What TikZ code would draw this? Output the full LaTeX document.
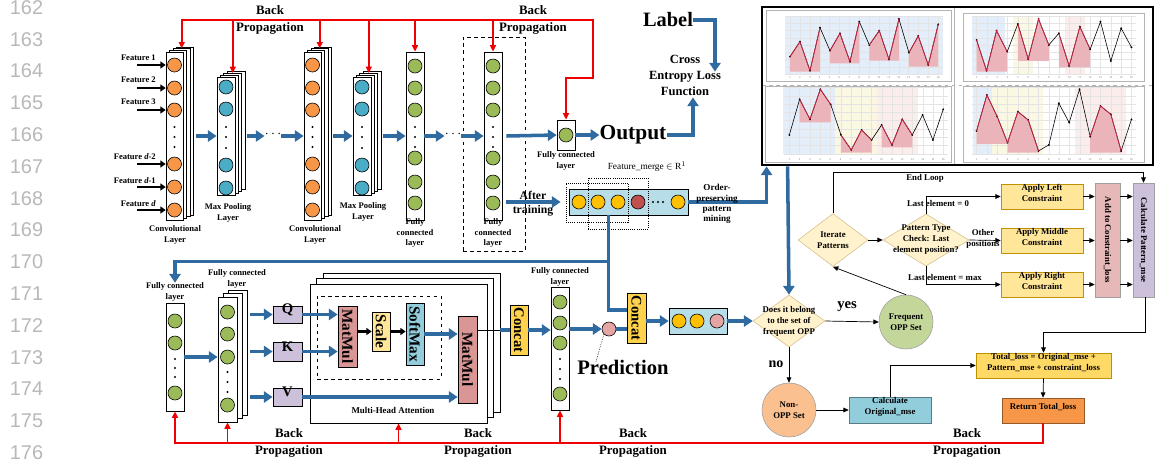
\documentclass[tikz,border=0pt]{standalone}
\usepackage{fontspec}
\setmainfont{Liberation Serif}
\setsansfont{Liberation Sans}
\usetikzlibrary{arrows.meta,positioning,fit,calc,shapes.geometric}
\definecolor{FlowBlue}{HTML}{2F6AA0}
\definecolor{BackRed}{HTML}{F00000}
\definecolor{NumGrey}{HTML}{B8B8B8}
\definecolor{ConvOrange}{HTML}{F79646}
\definecolor{PoolTeal}{HTML}{4BACC6}
\definecolor{DenseGreen}{HTML}{9BBB59}
\definecolor{MergeBlue}{HTML}{B7DEE8}
\definecolor{MergeGold}{HTML}{FFC000}
\definecolor{MergeRed}{HTML}{C0504D}
\definecolor{PredPink}{HTML}{E6A5A5}
\definecolor{QkvLilac}{HTML}{CCC0DA}
\definecolor{MulRose}{HTML}{D99694}
\definecolor{ScaleYellow}{HTML}{FFE699}
\definecolor{SoftBlue}{HTML}{93CDDD}
\definecolor{ConcatGold}{HTML}{FFD24D}
\definecolor{DiaCream}{HTML}{FFF2CC}
\definecolor{DiaEdge}{HTML}{D6C08A}
\definecolor{OppGreen}{HTML}{C4D79B}
\definecolor{NonOppPeach}{HTML}{FAC090}
\definecolor{SetEdge}{HTML}{A0A0A0}
\definecolor{ApplyYellow}{HTML}{FFE699}
\definecolor{ApplyEdge}{HTML}{BF9000}
\definecolor{AddPink}{HTML}{E6B9B8}
\definecolor{PatLilac}{HTML}{CCC0DA}
\definecolor{TotalGold}{HTML}{FFD966}
\definecolor{ReturnOrange}{HTML}{F79646}
\definecolor{CalcBlue}{HTML}{92CDDC}
\definecolor{PanelGrey}{HTML}{B4B4B4}
\definecolor{GridGrey}{HTML}{E4E4E4}
\definecolor{TickGrey}{HTML}{707070}
\definecolor{ChartRed}{HTML}{D62246}
\definecolor{ShadeRed}{HTML}{EBB3BA}
\definecolor{BandBlue}{HTML}{E4EEFB}
\definecolor{BandYellow}{HTML}{FAF8E2}
\definecolor{BandPink}{HTML}{FCEDED}

\begin{document}
\begin{tikzpicture}[x=0.03cm,y=-0.03cm,font=\bfseries]
    \tikzset{
      lab/.style={font=\fontsize{7.3}{8.8}\selectfont\bfseries,align=center,inner sep=0},
      bptext/.style={font=\fontsize{11}{14}\selectfont\bfseries,align=center,inner sep=0},
      lyr/.style={draw,fill=white,line width=0.6pt,inner sep=0},
      unit/.style={circle,draw,line width=0.5pt,inner sep=0,minimum size=0.42cm},
      flow/.style={draw=FlowBlue,line width=3pt,-{Triangle[length=7.5pt,width=9.5pt]}},
      flowline/.style={draw=FlowBlue,line width=3pt},
      back/.style={draw=BackRed,line width=1.5pt,-{Triangle[length=5.5pt,width=5pt]}},
      link/.style={draw,line width=0.6pt,-{Triangle[length=4.5pt,width=4pt]}},
      blackarrow/.style={draw,line width=2pt,-{Triangle[length=4.5pt,width=6pt]}},
      box/.style={draw,line width=0.5pt,inner sep=0,align=center,font=\fontsize{7.5}{9.4}\selectfont\bfseries},
      rot/.style={rotate=-90,inner sep=0,font=\fontsize{13}{14}\selectfont\bfseries},
      rotsmall/.style={rotate=-90,inner sep=0,font=\fontsize{7.5}{9}\selectfont\bfseries},
      dec/.style={diamond,draw=DiaEdge,fill=DiaCream,line width=0.5pt,inner sep=0},
      dectext/.style={align=center,inner sep=0,font=\fontsize{7.5}{9.4}\selectfont\bfseries},
      setnode/.style={circle,draw=SetEdge,line width=0.5pt,inner sep=0,minimum size=1.62cm,align=center,font=\fontsize{7.5}{9.4}\selectfont\bfseries},
      tick/.style={inner sep=0,font=\fontsize{2.5}{3}\selectfont\mdseries,text=TickGrey}
    }
    \useasboundingbox (0,0) rectangle (1155,465);

    % line numbers of the page
    \foreach \n [count=\k from 0] in {162,...,176}
      \node[font=\fontsize{17}{18}\selectfont\sffamily\mdseries,text=NumGrey,inner sep=0] (ln\n) at (26.5,7.5+31.8*\k) {\n};

    % ---------- CNN branch ----------
    \foreach \t/\y [count=\k] in {Feature 1/58,Feature 2/80,Feature 3/102,Feature \textit{d}-2/157,Feature \textit{d}-1/181,Feature \textit{d}/204}
      \node[lab,anchor=east] (feat\k) at (156,\y) {\t};
    \foreach \n/\x in {conv1/166,conv2/304}{
      \foreach \i in {3,2,1}
        \node[lyr,fit={(\x+3.6*\i,52-1.6*\i)(\x+17+3.6*\i,220-1.6*\i)}] (\n-b\i) {};
      \node[lyr,fit={(\x,52)(\x+17,220)}] (\n) {};
      \foreach \y [count=\k] in {65,88,110,164,187,210}
        \node[unit,fill=ConvOrange] (\n-u\k) at (\x+8.5,\y) {};
      \foreach \y in {127,137,147} \fill (\x+8.5,\y) circle (0.9pt);
    }
    \foreach \n/\x in {pool1/217,pool2/353}{
      \foreach \i in {3,2,1}
        \node[lyr,fit={(\x+3.4*\i,77-1.8*\i)(\x+18+3.4*\i,195-1.8*\i)}] (\n-b\i) {};
      \node[lyr,fit={(\x,77)(\x+18,195)}] (\n) {};
      \foreach \y [count=\k] in {87,109,165,188}
        \node[unit,fill=PoolTeal] (\n-u\k) at (\x+9,\y) {};
      \foreach \y in {127,137,148} \fill (\x+9,\y) circle (0.9pt);
    }
    \foreach \n/\x in {fc1/406,fc2/484}{
      \node[lyr,fit={(\x,52)(\x+18,220)}] (\n) {};
      \foreach \y [count=\k] in {66,88,110,158,182,203}
        \node[unit,fill=DenseGreen] (\n-u\k) at (\x+9,\y) {};
      \foreach \y in {127,137,147} \fill (\x+9,\y) circle (0.9pt);
    }
    \node[draw,dashed,line width=0.6pt,inner sep=0,fit={(463,37)(525,251)}] (fc2frame) {};
    \node[lab] (conv1l) at (175,235) {Convolutional\\Layer};
    \node[lab] (pool1l) at (228,213) {Max Pooling\\Layer};
    \node[lab] (conv2l) at (315,235) {Convolutional\\Layer};
    \node[lab] (pool2l) at (363,212) {Max Pooling\\Layer};
    \node[lab] (fc1l) at (415,233) {Fully\\connected\\layer};
    \node[lab] (fc2l) at (493,233) {Fully\\connected\\layer};
    \foreach \k/\y in {1/65,2/88,3/110,4/164,5/187,6/210}{
      \coordinate (fin\k) at (137,\y);
      \draw[blackarrow] (fin\k) -- (fin\k -| conv1.west);
    }
    \node[font=\fontsize{13}{14}\selectfont\bfseries,inner sep=0] (dotA) at (273,134) {$\cdots$};
    \node[font=\fontsize{13}{14}\selectfont\bfseries,inner sep=0] (dotB) at (453,134) {$\cdots$};
    \draw[flow] ($(conv1.east)+(13,0)$) -- (pool1.west);
    \draw[flow] ($(pool1.east)+(12,0)$) -- (dotA.west |- pool1.west);
    \draw[flow] (dotA.east |- conv2.west) -- (conv2.west);
    \draw[flow] ($(conv2.east)+(12,0)$) -- (pool2.west);
    \draw[flow] ($(pool2.east)+(12,0)$) -- (fc1.west);
    \draw[flow] (fc1.east) -- (dotB.west |- fc1.east);
    \draw[flow] (dotB.east |- fc2.west) -- (fc2.west);

    % output head
    \node[lyr,fit={(557,120)(575,150)}] (fcs) {};
    \node[unit,fill=DenseGreen] (fcs-u1) at (fcs) {};
    \node[lab] (fcsl) at (566,161) {Fully connected\\layer};
    \node[font=\fontsize{18.3}{20}\selectfont\bfseries,inner sep=0] (out) at (633,135) {Output};
    \node[font=\fontsize{17.4}{19}\selectfont\bfseries,inner sep=0] (lbl) at (668,20) {Label};
    \node[font=\fontsize{10.7}{13.6}\selectfont\bfseries,align=center,inner sep=0] (cel) at (685,75) {Cross\\Entropy Loss\\Function};
    \draw[flow] ($(fc2.east)+(4,0)$) -- (fcs.west);
    \draw[flow] (fcs.east) -- (out.west);
    \draw[flow] (out.east) -| ($(cel.south)+(8,2)$);
    \draw[flow] (lbl.east) -| ($(cel.north)+(30,17)$);

    % top back propagation
    \coordinate (bpl) at (181,20);
    \coordinate (bpr) at (593,20);
    \draw[back] (bpl) -- (bpr) |- ($(fcs.north)+(0,-42)$) -- (fcs.north);
    \foreach \n in {conv1-b2,pool1-b2,conv2-b2,pool2-b2,fc1,fc2}
      \draw[back] (\n.north |- bpl) -- (\n.north);
    \node[bptext] (bpt1) at (270,20) {Back\\Propagation};
    \node[bptext] (bpt2) at (533,20) {Back\\Propagation};

    % ---------- result chart ----------
    \begin{scope}[shift={(755,0)},x=0.01cm,y=-0.01cm]
      \fill[BandBlue] (90,48) rectangle (565,222);
      \fill[BandBlue] (650,48) rectangle (750,222);
      \fill[BandYellow] (775,48) rectangle (835,222);
      \fill[BandPink] (930,48) rectangle (990,222);
      \fill[BandBlue] (85,262) rectangle (240,462);
      \fill[BandYellow] (240,262) rectangle (365,462);
      \fill[BandPink] (365,262) rectangle (490,462);
      \fill[BandBlue] (655,262) rectangle (710,462);
      \fill[BandYellow] (710,262) rectangle (865,462);
      \fill[BandPink] (960,262) rectangle (1115,462);
      \foreach \a/\b/\c/\d in {35/32/590/245,625/40/1168/245,30/258/590/487,625/258/1168/487}
        \draw[PanelGrey,line width=0.4pt] (\a,\b) rectangle (\c,\d);
      \foreach \xo/\st/\ta/\tb/\tl [count=\p] in {105/29.67/48/222/232,665/31/48/222/232,103/30.8/262/462/478,665/31/262/462/478}{
        \foreach \j in {0,...,8}
          \draw[GridGrey,line width=0.2pt] (\xo-15,{\ta+\j*(\tb-\ta)/8}) -- (\xo+15*\st+15,{\ta+\j*(\tb-\ta)/8});
        \foreach \i in {1,...,16}{
          \draw[GridGrey,line width=0.2pt] (\xo+\st*\i-\st,\ta) -- (\xo+\st*\i-\st,\tb);
          \node[tick] (tk\p-\i) at (\xo+\st*\i-\st,\tl) {\i};
        }
      }
      \draw[PanelGrey,line width=0.8pt] (598,21) -- (598,495);
      \draw[PanelGrey,line width=0.6pt,dashed] (21,255) -- (1194,255);
      % top left
      \fill[ShadeRed] (105,215) -- (105,170) -- (135,125) -- (165,212) -- (195,83) -- (195,215) -- cycle;
      \fill[ShadeRed] (225,190) -- (225,152) -- (255,100) -- (285,185) -- (313,65) -- (313,190) -- cycle;
      \fill[ShadeRed] (343,182) -- (343,135) -- (373,92) -- (402,178) -- (432,57) -- (432,182) -- cycle;
      \fill[ShadeRed] (462,200) -- (462,158) -- (490,108) -- (520,195) -- (550,73) -- (550,200) -- cycle;
      \draw[line width=0.5pt] plot[mark=*,mark size=0.5pt] coordinates {(105,170) (135,125) (165,212) (195,83) (225,152) (255,100) (285,185) (313,65) (343,135) (373,92) (402,178) (432,57) (462,158) (490,108) (520,195) (550,73)};
      \draw[ChartRed,line width=0.6pt] (105,170) -- (135,125) -- (165,212) -- (195,83);
      \draw[ChartRed,line width=0.6pt] (225,152) -- (255,100) -- (285,185) -- (313,65);
      \draw[ChartRed,line width=0.6pt] (343,135) -- (373,92) -- (402,178) -- (432,57);
      \draw[ChartRed,line width=0.6pt] (462,158) -- (490,108) -- (520,195) -- (550,73);
      % top right
      \fill[ShadeRed] (665,215) -- (665,120) -- (695,212) -- (725,92) -- (757,155) -- (757,215) -- cycle;
      \fill[ShadeRed] (789,183) -- (789,72) -- (820,177) -- (851,57) -- (882,135) -- (882,183) -- cycle;
      \fill[ShadeRed] (912,202) -- (912,100) -- (943,198) -- (975,80) -- (1006,148) -- (1006,202) -- cycle;
      \draw[line width=0.5pt] plot[mark=*,mark size=0.5pt] coordinates {(665,120) (695,212) (725,92) (757,155) (789,72) (820,177) (851,57) (882,135) (912,100) (943,198) (975,80) (1006,148) (1037,65) (1068,183) (1099,85) (1130,142)};
      \draw[ChartRed,line width=0.6pt] (665,120) -- (695,212) -- (725,92) -- (757,155);
      \draw[ChartRed,line width=0.6pt] (789,72) -- (820,177) -- (851,57) -- (882,135);
      \draw[ChartRed,line width=0.6pt] (912,100) -- (943,198) -- (975,80) -- (1006,148);
      % bottom left
      \fill[ShadeRed] (134,367) -- (134,298) -- (165,358) -- (196,268) -- (227,313) -- (227,367) -- cycle;
      \fill[ShadeRed] (258,458) -- (258,405) -- (289,450) -- (320,390) -- (350,420) -- (350,458) -- cycle;
      \fill[ShadeRed] (380,442) -- (380,375) -- (411,435) -- (442,358) -- (472,405) -- (472,442) -- cycle;
      \draw[line width=0.5pt] plot[mark=*,mark size=0.5pt] coordinates {(103,405) (134,298) (165,358) (196,268) (227,313) (258,405) (289,450) (320,390) (350,420) (380,375) (411,435) (442,358) (472,405) (503,345) (534,420) (565,328)};
      \draw[ChartRed,line width=0.6pt] (134,298) -- (165,358) -- (196,268) -- (227,313);
      \draw[ChartRed,line width=0.6pt] (258,405) -- (289,450) -- (320,390) -- (350,420);
      \draw[ChartRed,line width=0.6pt] (380,375) -- (411,435) -- (442,358) -- (472,405);
      % bottom right
      \fill[ShadeRed] (665,432) -- (665,393) -- (696,285) -- (727,350) -- (758,428) -- (758,432) -- cycle;
      \fill[ShadeRed] (758,458) -- (758,428) -- (789,335) -- (820,360) -- (851,453) -- (851,458) -- cycle;
      \fill[ShadeRed] (1006,458) -- (1006,410) -- (1037,318) -- (1068,343) -- (1099,453) -- (1099,458) -- cycle;
      \draw[line width=0.5pt] plot[mark=*,mark size=0.5pt] coordinates {(665,393) (696,285) (727,350) (758,428) (789,335) (820,360) (851,453) (882,435) (912,310) (943,368) (974,268) (1006,410) (1037,318) (1068,343) (1099,453) (1130,358)};
      \draw[ChartRed,line width=0.6pt] (665,393) -- (696,285) -- (727,350) -- (758,428) -- (789,335) -- (820,360) -- (851,453);
      \draw[ChartRed,line width=0.6pt] (1006,410) -- (1037,318) -- (1068,343) -- (1099,453);
    \end{scope}
    \node[draw,line width=2.4pt,inner sep=0,fit={(762,7)(1153,165)}] (chart) {};

    % ---------- feature merge ----------
    \node[lyr,fill=MergeBlue,fit={(569,189)(688,215)}] (merge) {};
    \foreach \x/\c [count=\k] in {579/MergeGold,598/MergeGold,618/MergeGold,638/MergeRed,678/MergeGold}
      \node[unit,fill=\c] (merge-u\k) at (\x,202) {};
    \foreach \x in {653,658,663} \fill (\x,202) circle (0.9pt);
    \node[draw,densely dotted,line width=0.8pt,inner sep=0,fit={(566,183)(628,222)}] (winA) {};
    \node[draw,densely dotted,line width=0.8pt,inner sep=0,fit={(588,178)(648,229)}] (winB) {};
    \node[font=\fontsize{8}{9}\selectfont\mdseries,inner sep=0] (mergel) at (647,167) {Feature\_merge $\in$ R$^{1}$};
    \draw[flow] ($(fc2.east |- merge.west)+(4,0)$) -- ($(merge.west)+(-8,0)$);
    \node[font=\fontsize{10}{12}\selectfont\bfseries,align=center,inner sep=0] (aftr) at (533,204) {After\\training};
    \draw[flow] (merge.east) -| ($(chart.south west)+(6,0)$);
    \node[font=\fontsize{7.8}{8.8}\selectfont\bfseries,align=center,inner sep=0] (opm) at (717,204) {Order-\\preserving\\pattern\\mining};

    % ---------- attention branch ----------
    \node[lyr,fit={(166,303)(184,411)}] (fca) {};
    \foreach \y [count=\k] in {321,343,393}
      \node[unit,fill=DenseGreen] (fca-u\k) at (175,\y) {};
    \foreach \y in {359,368,377} \fill (175,\y) circle (0.9pt);
    \node[lab] (fcal) at (175,292) {Fully connected\\layer};
    \foreach \i in {2,1}
      \node[lyr,fit={(218+5*\i,297-3.5*\i)(237+5*\i,422-3.5*\i)}] (fcb-b\i) {};
    \node[lyr,fit={(218,297)(237,422)}] (fcb) {};
    \foreach \y [count=\k] in {312,334,357,405}
      \node[unit,fill=DenseGreen] (fcb-u\k) at (227.5,\y) {};
    \foreach \y in {372,382,392} \fill (227.5,\y) circle (0.9pt);
    \node[lab] (fcbl) at (237,279) {Fully connected\\layer};
    \coordinate (mtop) at ($(merge.south west)+(40,0)$);
    \coordinate (jn) at ($(mtop)+(0,46)$);
    \draw[flow] (jn) -| (fcal.north);
    \draw[flow] (fca.east) -- (fca.east -| fcb.west);

    \foreach \n/\t/\a/\b in {q/Q/306/323,k/K/342/361,v/V/388/406}
      \node[lyr,fill=QkvLilac,font=\fontsize{12.5}{13}\selectfont\bfseries,fit={(273,\a)(302,\b)}] (\n) {\t};
    \foreach \n in {q,k,v}
      \draw[flow] ($(\n.west -| fcb-b2.east)+(3,0)$) -- (\n.west);

    \foreach \i in {2,1}
      \node[lyr,fit={(310+6.5*\i,284-5.5*\i)(487+6.5*\i,423-5.5*\i)}] (mha-b\i) {};
    \node[lyr,fit={(310,284)(487,423)}] (mha) {};
    \node[font=\fontsize{7.6}{8}\selectfont\bfseries,inner sep=0] (mhal) at (393,410) {Multi-Head Attention};
    \node[draw,dashed,line width=0.6pt,inner sep=0,fit={(317,296)(441,379)}] (sdpa) {};
    \node[lyr,fill=MulRose,fit={(338,306)(357,367)}] (mm1) {};
    \node[lyr,fill=ScaleYellow,fit={(372,312)(390,351)}] (scl) {};
    \node[lyr,fill=SoftBlue,fit={(406,303)(424,365)}] (smx) {};
    \node[lyr,fill=MulRose,fit={(458,316)(477,403)}] (mm2) {};
    \node[rot] (mm1t) at (mm1) {MatMul};
    \node[rot] (sclt) at (scl) {Scale};
    \node[rot] (smxt) at (smx) {SoftMax};
    \node[rot] (mm2t) at (mm2) {MatMul};
    \draw[blackarrow] (mm1.east |- scl.west) -- (scl.west);
    \draw[blackarrow] (scl.east) -- (scl.east -| smx.west);
    \draw[flow] (q.east) -- (q.east -| mm1.west);
    \draw[flow] (k.east) -- (k.east -| mm1.west);
    \draw[flow] (smx.east) -- (smx.east -| mm2.west);
    \draw[flow] (v.east) -- (v.east -| mm2.west);

    \node[lyr,fill=ConcatGold,fit={(510,305)(528,355)}] (cat1) {};
    \node[rot,font=\fontsize{12.5}{13}\selectfont\bfseries] (cat1t) at (cat1) {Concat};
    \draw[link,-] (mm2.east |- cat1.west) -- (cat1.west -| mha-b2.east);
    \draw[flowline] (cat1.west -| mha-b2.east) -- (cat1.west);
    \node[lyr,fit={(551,287)(569,410)}] (fcc) {};
    \foreach \y [count=\k] in {302,323,343,394}
      \node[unit,fill=DenseGreen] (fcc-u\k) at (560,\y) {};
    \foreach \y in {359,369,379} \fill (560,\y) circle (0.9pt);
    \node[lab] (fccl) at (560,277) {Fully connected\\layer};
    \draw[flow] (cat1.east) -- (cat1.east -| fcc.west);

    \node[unit,fill=PredPink] (pred) at (609,329) {};
    \node[font=\fontsize{17.6}{19}\selectfont\bfseries,inner sep=0] (prd) at (623,367) {Prediction};
    \draw[densely dotted,line width=0.5pt] (pred.south west) -- ($(prd.north)+(-27,2)$);
    \draw[flow] (fcc.east |- pred.west) -- (pred.west);
    \node[lyr,fill=ConcatGold,fit={(627,293)(646,343)}] (cat2) {};
    \node[rot,font=\fontsize{12.5}{13}\selectfont\bfseries] (cat2t) at (cat2) {Concat};
    \draw[flowline] (pred.east) -- (pred.east -| cat2.west);
    \draw[flowline] (mtop) |- ($(cat2.west)+(0,-8)$);
    \node[lyr,fill=MergeBlue,fit={(669,308)(727,334)}] (mg2) {};
    \foreach \x/\c [count=\k] in {679/MergeGold,697/MergeGold,717/PredPink}
      \node[unit,fill=\c] (mg2-u\k) at (\x,321) {};
    \draw[flow] (cat2.east |- mg2.west) -- (mg2.west);

    % ---------- loss flow chart ----------
    \node[dec,minimum width=2.16cm,minimum height=1.56cm] (dq) at (789,321) {};
    \node[dectext] (dqt) at (dq) {Does it belong\\to the set of\\frequent OPP};
    \draw[flow] (mg2.east) -- (dq.west);
    \draw[flow] ($(chart.south west)+(27,0)$) -- (dq.north);
    \node[setnode,fill=OppGreen] (fopp) at (906,322) {Frequent\\OPP Set};
    \node[setnode,fill=NonOppPeach] (nopp) at (789,410) {Non-\\OPP Set};
    \node[font=\fontsize{12.5}{13}\selectfont\bfseries,inner sep=0] (yes) at (847,307) {yes};
    \node[font=\fontsize{12}{13}\selectfont\bfseries,inner sep=0] (no) at (776,364) {no};
    \draw[link] (dq.east) -- (fopp.west);
    \draw[link] (dq.south) -- (nopp.north);
    \node[box,fill=CalcBlue,draw=CalcBlue!60!black,fit={(849,397)(931,423)}] (cmse) {Calculate\\Original\_mse};
    \draw[link] (nopp.east) -- (cmse.west);

    \node[dec,minimum width=2.1cm,minimum height=1.59cm] (iter) at (833,240) {};
    \node[dectext] (itert) at (iter) {Iterate\\Patterns};
    \node[dec,minimum width=2.58cm,minimum height=1.56cm] (ptc) at (926,240) {};
    \node[dectext] (ptct) at (ptc) {Pattern Type\\Check: Last\\element position?};
    \draw[link] (fopp.north) -- (iter.south);
    \draw[link] (iter.east) -- (ptc.west);

    \node[box,fill=ApplyYellow,draw=ApplyEdge,fit={(1001,184)(1083,209)}] (lft) {Apply Left\\Constraint};
    \node[box,fill=ApplyYellow,draw=ApplyEdge,fit={(1001,228)(1083,253)}] (mid) {Apply Middle\\Constraint};
    \node[box,fill=ApplyYellow,draw=ApplyEdge,fit={(1001,272)(1083,297)}] (rgt) {Apply Right\\Constraint};
    \node[box,fill=AddPink,draw=SetEdge,fit={(1095,183)(1120,297)}] (add) {};
    \node[rotsmall] (addt) at (add) {Add to Constraint\_loss};
    \node[box,fill=PatLilac,draw=SetEdge,fit={(1133,183)(1154,297)}] (cpm) {};
    \node[rotsmall] (cpmt) at (cpm) {Calculate Pattern\_mse};
    \draw[link] (ptc.north) |- (lft.west);
    \draw[link] (ptc.east) -- (mid.west);
    \draw[link] (ptc.south) |- (rgt.west);
    \node[dectext] (lz) at (938,203) {Last element = 0};
    \node[dectext] (lo) at (983,239) {Other\\positions};
    \node[dectext] (lm) at (945,277) {Last element = max};
    \foreach \n in {lft,mid,rgt}{
      \draw[link] (\n.east) -- (\n.east -| add.west);
      \draw[link] (\n.east -| add.east) -- (\n.east -| cpm.west);
    }
    \draw[link] (iter.north) |- ($(cpm.north)+(0,-10)$) -- (cpm.north);
    \node[dectext] (endl) at (925,178) {End Loop};

    \node[box,fill=TotalGold,draw=ApplyEdge,fit={(976,353)(1111,378)}] (total) {Total\_loss = Original\_mse +\\Pattern\_mse + constraint\_loss};
    \node[box,fill=ReturnOrange,draw=ReturnOrange!60!black,fit={(1002,398)(1084,423)}] (ret) {Return Total\_loss};
    \draw[link] ($(cpm.south)+(2,0)$) -- ($(cpm.south)+(2,35)$) -| (total.north);
    \draw[link] (cmse.north) |- (total.west);
    \draw[link] (total.south) -- (ret.north);

    % bottom back propagation
    \coordinate (bpb) at (175,443);
    \draw[back] (ret.south) |- (bpb) -- (fca.south);
    \foreach \n in {fcb,mha,fcc}
      \draw[back] (\n.south |- bpb) -- (\n.south);
    \foreach \x [count=\k] in {289,478,633,967}
      \node[bptext] (bpb\k) at (\x,443) {Back\\Propagation};
  \end{tikzpicture}
\end{document}
